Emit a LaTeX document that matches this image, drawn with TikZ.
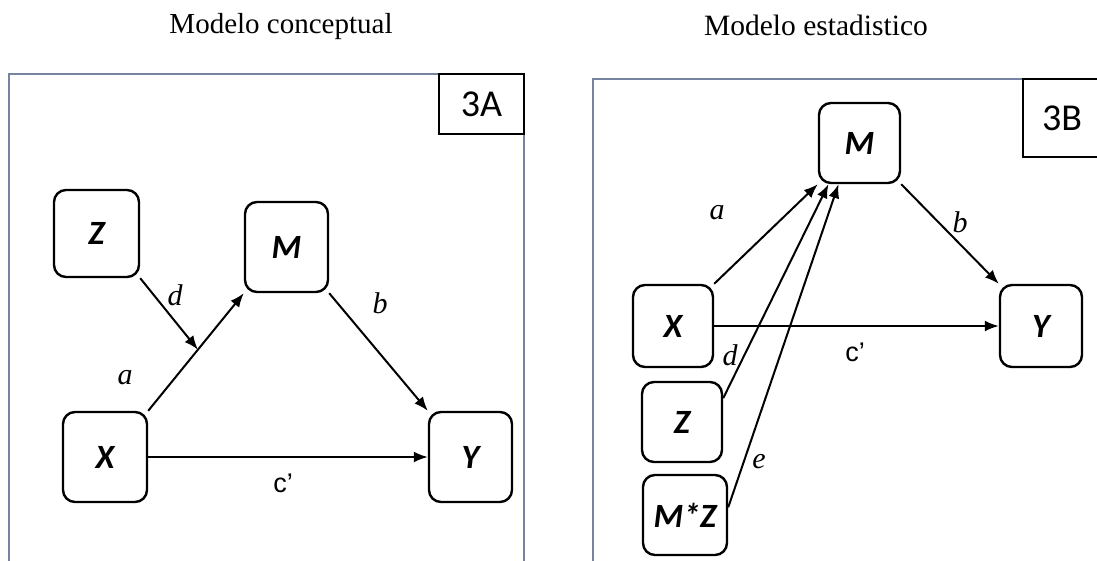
\documentclass[tikz,border=0pt]{standalone}
\usepackage{fontspec}
\setmainfont{Liberation Serif}
\newfontfamily\boxfont{Carlito}
\newfontfamily\cfont{Liberation Sans}
\usetikzlibrary{arrows.meta,calc}
\definecolor{framecol}{RGB}{118,132,162}

\begin{document}
\begin{tikzpicture}[x=1pt, y=-1pt,
	var/.style={draw, line width=2.4pt, rounded corners=12pt, font=\boxfont\fontsize{34}{38}\selectfont\itshape\bfseries, inner sep=0pt},
	lbl/.style={font=\fontsize{30}{34}\selectfont\itshape, inner sep=0pt},
	clbl/.style={font=\cfont\fontsize{27}{30}\selectfont, inner sep=0pt},
	path/.style={line width=2pt, -{Latex[length=14pt, width=11pt]}},
	frame/.style={draw=framecol, line width=2.5pt},
	tag/.style={font=\boxfont\fontsize{38}{42}\selectfont, inner sep=0pt}]
	\useasboundingbox (0,0) rectangle (1097,560);
	% modelo conceptual
	\node (tituloA) at (281,33) [anchor=base, font=\fontsize{29}{33}\selectfont] {Modelo conceptual};
	\draw[frame] (9,575) -- (9,74) -- (524,74) -- (524,575);
	\node (tagA) at (481.5,104) [tag, draw, line width=1.5pt, minimum width=85pt, minimum height=60pt] {3A};
	\node (Za) at (96.5,233.5) [var, minimum width=85pt, minimum height=87pt] {Z};
	\node (Ma) at (286.5,247) [var, minimum width=83pt, minimum height=90pt] {M};
	\node (Xa) at (105,457) [var, minimum width=84pt, minimum height=90pt] {X};
	\node (Ya) at (470.5,457) [var, minimum width=83pt, minimum height=90pt] {Y};
	\coordinate (mod) at ($(Xa.north east)!0.52!(Ma.south west)$);
	\draw[path] (Xa.north east) -- (Ma.south west);
	\draw[path] (Za.south east) -- (mod);
	\draw[path] (Ma.south east) -- (Ya.north west);
	\draw[path] (Xa.east) -- (Ya.west);
	\node (aA) at (125,378) [lbl] {a};
	\node (dA) at (175,295) [lbl] {d};
	\node (bA) at (380,303) [lbl] {b};
	\node (cA) at (283,483) [clbl] {c’};
	% modelo estadistico
	\node (tituloB) at (816,35) [anchor=base, font=\fontsize{29.5}{33}\selectfont] {Modelo estadistico};
	\draw[frame] (593,575) -- (593,79) -- (1110,79);
	\draw[line width=1.5pt] (1023,79) rectangle (1110,157);
	\node (tagB) at (1062,118) [tag] {3B};
	\node (Mb) at (859.5,143) [var, minimum width=81pt, minimum height=80pt] {M};
	\node (Xb) at (673,326) [var, minimum width=80pt, minimum height=82pt] {X};
	\node (Yb) at (1041,326) [var, minimum width=82pt, minimum height=82pt] {Y};
	\node (Zb) at (682,422) [var, minimum width=80pt, minimum height=80pt] {Z};
	\node (MZb) at (685,515) [var, minimum width=84pt, minimum height=80pt] {M*Z};
	\draw[path] (Xb.north east) -- (Mb.south west);
	\draw[path] (Zb.30) -- (Mb.-127);
	\draw[path] (MZb.10) -- (Mb.-117);
	\draw[path] (Mb.south east) -- (Yb.north west);
	\draw[path] (Xb.east) -- (Yb.west);
	\node (aB) at (717,213) [lbl] {a};
	\node (bB) at (960,222) [lbl] {b};
	\node (dB) at (730,355) [lbl] {d};
	\node (eB) at (759,462) [lbl] {e};
	\node (cB) at (855,352) [clbl] {c’};
\end{tikzpicture}
\end{document}
